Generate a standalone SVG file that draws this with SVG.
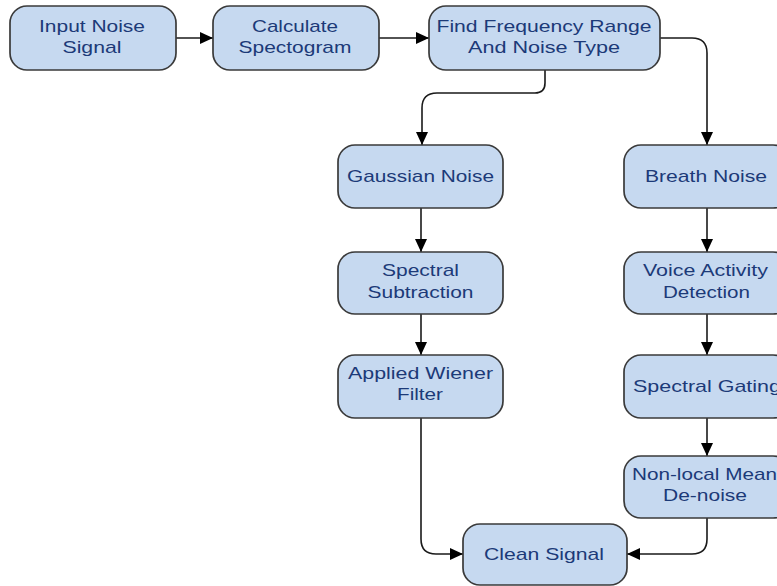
<svg xmlns="http://www.w3.org/2000/svg" width="777" height="586" viewBox="0 0 777 586">
<style>
.n rect{fill:#C6D9F0;stroke:#3A3A3A;stroke-width:1.7}
.n text{font-family:"Liberation Sans",Arial,sans-serif;font-size:17px;fill:#1C3A78;text-anchor:middle}
.c path{fill:none;stroke:#1A1A1A;stroke-width:1.6;marker-end:url(#ah)}
</style>
<defs>
<marker id="ah" markerUnits="userSpaceOnUse" markerWidth="14" markerHeight="12" refX="13" refY="6" orient="auto">
<path d="M0,0 L13,6 L0,12 Z" fill="#000"/>
</marker>
</defs>
<rect width="777" height="586" fill="#fff"/>
<g class="c" id="connectors">
<path d="M176,38 H213"/>
<path d="M379,38 H429"/>
<path d="M545,70 V83 Q545,93 535,93 H437 Q422,93 422,108 V145"/>
<path d="M660,38 H692 Q707,38 707,53 V145"/>
<path d="M421,208 V252"/>
<path d="M421,314 V355"/>
<path d="M707,208 V252"/>
<path d="M707,314 V355"/>
<path d="M707,418 V456"/>
<path d="M421,418 V539 Q421,554 436,554 H463"/>
<path d="M707,518 V539 Q707,554 692,554 H627"/>
</g>
<g class="n" id="input">
<rect x="10" y="6" width="166" height="64" rx="17"/>
<text x="92" y="32" textLength="106" lengthAdjust="spacingAndGlyphs">Input Noise</text>
<text x="92" y="53" textLength="59" lengthAdjust="spacingAndGlyphs">Signal</text>
</g>
<g class="n" id="spectogram">
<rect x="213" y="6" width="166" height="64" rx="17"/>
<text x="295" y="32" textLength="86" lengthAdjust="spacingAndGlyphs">Calculate</text>
<text x="295" y="53" textLength="113" lengthAdjust="spacingAndGlyphs">Spectogram</text>
</g>
<g class="n" id="findfreq">
<rect x="429" y="6" width="231" height="64" rx="17"/>
<text x="544" y="32" textLength="215" lengthAdjust="spacingAndGlyphs">Find Frequency Range</text>
<text x="544" y="53" textLength="152" lengthAdjust="spacingAndGlyphs">And Noise Type</text>
</g>
<g class="n" id="gaussian">
<rect x="338" y="145" width="165" height="63" rx="17"/>
<text x="420.5" y="182" textLength="147" lengthAdjust="spacingAndGlyphs">Gaussian Noise</text>
</g>
<g class="n" id="breath">
<rect x="624" y="145" width="166" height="63" rx="17"/>
<text x="706" y="182" textLength="122" lengthAdjust="spacingAndGlyphs">Breath Noise</text>
</g>
<g class="n" id="subtraction">
<rect x="338" y="252" width="165" height="62" rx="17"/>
<text x="420.5" y="276" textLength="77" lengthAdjust="spacingAndGlyphs">Spectral</text>
<text x="420.5" y="298" textLength="106" lengthAdjust="spacingAndGlyphs">Subtraction</text>
</g>
<g class="n" id="vad">
<rect x="624" y="252" width="166" height="62" rx="17"/>
<text x="705.5" y="276" textLength="125" lengthAdjust="spacingAndGlyphs">Voice Activity</text>
<text x="706.5" y="298" textLength="87" lengthAdjust="spacingAndGlyphs">Detection</text>
</g>
<g class="n" id="wiener">
<rect x="338" y="355" width="165" height="63" rx="17"/>
<text x="420.5" y="379" textLength="145" lengthAdjust="spacingAndGlyphs">Applied Wiener</text>
<text x="420" y="400" textLength="46" lengthAdjust="spacingAndGlyphs">Filter</text>
</g>
<g class="n" id="gating">
<rect x="624" y="355" width="166" height="63" rx="17"/>
<text x="707" y="392" textLength="148" lengthAdjust="spacingAndGlyphs">Spectral Gating</text>
</g>
<g class="n" id="nlm">
<rect x="624" y="456" width="166" height="62" rx="17"/>
<text x="632" y="480" textLength="145" lengthAdjust="spacingAndGlyphs" style="text-anchor:start">Non-local Mean</text>
<text x="705" y="501" textLength="84" lengthAdjust="spacingAndGlyphs">De-noise</text>
</g>
<g class="n" id="clean">
<rect x="463" y="524" width="164" height="61" rx="17"/>
<text x="544" y="560" textLength="120" lengthAdjust="spacingAndGlyphs">Clean Signal</text>
</g>
</svg>
